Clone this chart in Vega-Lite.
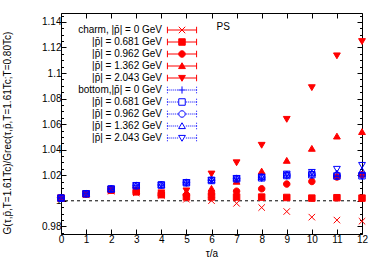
{
  "$schema": "https://vega.github.io/schema/vega-lite/v6.json",
  "width": 301,
  "height": 221,
  "autosize": {"type": "none"},
  "padding": {"left": 61, "top": 13, "right": 19, "bottom": 33},
  "background": "white",
  "config": {
    "view": {"stroke": null},
    "font": "Liberation Sans",
    "axis": {"grid": false, "domainColor": "black", "tickColor": "black", "labelColor": "black", "titleColor": "black", "labelFont": "Liberation Sans", "titleFont": "Liberation Sans", "labelFontSize": 10, "titleFontSize": 10, "titleFontWeight": "normal", "domainWidth": 1, "tickWidth": 1, "labelOverlap": false}
  },
  "data": {"values": [
    {"t":0,"s":0,"v":1.0021},{"t":1,"s":0,"v":1.0050},{"t":2,"s":0,"v":1.0075},{"t":3,"s":0,"v":1.0062},{"t":4,"s":0,"v":1.0042},{"t":5,"s":0,"v":1.0012},{"t":6,"s":0,"v":1.0001},{"t":7,"s":0,"v":0.998},{"t":8,"s":0,"v":0.9947},{"t":9,"s":0,"v":0.9916},{"t":10,"s":0,"v":0.9872},{"t":11,"s":0,"v":0.9849},{"t":12,"s":0,"v":0.984},
    {"t":0,"s":1,"v":1.0021},{"t":1,"s":1,"v":1.0053},{"t":2,"s":1,"v":1.0083},{"t":3,"s":1,"v":1.0070},{"t":4,"s":1,"v":1.0048},{"t":5,"s":1,"v":1.003},{"t":6,"s":1,"v":1.003},{"t":7,"s":1,"v":1.003},{"t":8,"s":1,"v":1.0029},{"t":9,"s":1,"v":1.0026},{"t":10,"s":1,"v":1.0021},{"t":11,"s":1,"v":1.0024},{"t":12,"s":1,"v":1.0021},
    {"t":0,"s":2,"v":1.0021},{"t":1,"s":2,"v":1.0054},{"t":2,"s":2,"v":1.0086},{"t":3,"s":2,"v":1.0075},{"t":4,"s":2,"v":1.0052},{"t":5,"s":2,"v":1.0045},{"t":6,"s":2,"v":1.0058},{"t":7,"s":2,"v":1.0075},{"t":8,"s":2,"v":1.0094},{"t":9,"s":2,"v":1.0131},{"t":10,"s":2,"v":1.0151},{"t":11,"s":2,"v":1.0186},{"t":12,"s":2,"v":1.0204},
    {"t":0,"s":3,"v":1.0021},{"t":1,"s":3,"v":1.0055},{"t":2,"s":3,"v":1.0089},{"t":3,"s":3,"v":1.0080},{"t":4,"s":3,"v":1.0058},{"t":5,"s":3,"v":1.0065},{"t":6,"s":3,"v":1.0095},{"t":7,"s":3,"v":1.015},{"t":8,"s":3,"v":1.023},{"t":9,"s":3,"v":1.0314},{"t":10,"s":3,"v":1.0408},{"t":11,"s":3,"v":1.0504},{"t":12,"s":3,"v":1.0539},
    {"t":0,"s":4,"v":1.0021},{"t":1,"s":4,"v":1.0056},{"t":2,"s":4,"v":1.0092},{"t":3,"s":4,"v":1.0085},{"t":4,"s":4,"v":1.0065},{"t":5,"s":4,"v":1.008},{"t":6,"s":4,"v":1.0212},{"t":7,"s":4,"v":1.030},{"t":8,"s":4,"v":1.0437},{"t":9,"s":4,"v":1.064},{"t":10,"s":4,"v":1.0888},{"t":11,"s":4,"v":1.1137},{"t":12,"s":4,"v":1.1249},
    {"t":0,"s":5,"v":1.0021},{"t":1,"s":5,"v":1.0055},{"t":2,"s":5,"v":1.0092},{"t":3,"s":5,"v":1.0118},{"t":4,"s":5,"v":1.0123},{"t":5,"s":5,"v":1.0141},{"t":6,"s":5,"v":1.0159},{"t":7,"s":5,"v":1.0172},{"t":8,"s":5,"v":1.0177},{"t":9,"s":5,"v":1.0195},{"t":10,"s":5,"v":1.0201},{"t":11,"s":5,"v":1.0191},{"t":12,"s":5,"v":1.0193},
    {"t":0,"s":6,"v":1.0021},{"t":1,"s":6,"v":1.0055},{"t":2,"s":6,"v":1.0092},{"t":3,"s":6,"v":1.0118},{"t":4,"s":6,"v":1.0123},{"t":5,"s":6,"v":1.0141},{"t":6,"s":6,"v":1.0159},{"t":7,"s":6,"v":1.0172},{"t":8,"s":6,"v":1.018},{"t":9,"s":6,"v":1.0198},{"t":10,"s":6,"v":1.0204},{"t":11,"s":6,"v":1.0194},{"t":12,"s":6,"v":1.0196},
    {"t":0,"s":7,"v":1.0022},{"t":1,"s":7,"v":1.0056},{"t":2,"s":7,"v":1.0093},{"t":3,"s":7,"v":1.0119},{"t":4,"s":7,"v":1.0125},{"t":5,"s":7,"v":1.0143},{"t":6,"s":7,"v":1.0161},{"t":7,"s":7,"v":1.0174},{"t":8,"s":7,"v":1.0184},{"t":9,"s":7,"v":1.0202},{"t":10,"s":7,"v":1.0208},{"t":11,"s":7,"v":1.0198},{"t":12,"s":7,"v":1.02},
    {"t":0,"s":8,"v":1.0022},{"t":1,"s":8,"v":1.0056},{"t":2,"s":8,"v":1.0094},{"t":3,"s":8,"v":1.012},{"t":4,"s":8,"v":1.0126},{"t":5,"s":8,"v":1.0144},{"t":6,"s":8,"v":1.0162},{"t":7,"s":8,"v":1.0176},{"t":8,"s":8,"v":1.0186},{"t":9,"s":8,"v":1.0205},{"t":10,"s":8,"v":1.0215},{"t":11,"s":8,"v":1.0215},{"t":12,"s":8,"v":1.0235},
    {"t":0,"s":9,"v":1.0022},{"t":1,"s":9,"v":1.0057},{"t":2,"s":9,"v":1.0095},{"t":3,"s":9,"v":1.0122},{"t":4,"s":9,"v":1.0127},{"t":5,"s":9,"v":1.0145},{"t":6,"s":9,"v":1.0163},{"t":7,"s":9,"v":1.0178},{"t":8,"s":9,"v":1.0188},{"t":9,"s":9,"v":1.0212},{"t":10,"s":9,"v":1.0225},{"t":11,"s":9,"v":1.0249},{"t":12,"s":9,"v":1.028}
  ]},
  "resolve": {"axis": {"x": "independent", "y": "independent"}, "scale": {"shape": "independent", "fill": "independent", "stroke": "independent"}, "legend": {"shape": "independent", "fill": "independent", "stroke": "independent"}},
  "layer": [
    {
      "data": {"values": [{}]},
      "mark": {"type": "rule", "color": "black", "strokeWidth": 1, "strokeDash": [3, 3]},
      "encoding": {"y": {"datum": 1, "type": "quantitative", "axis": null}}
    },
    {
      "data": {"values": [{}]},
      "mark": {"type": "point", "opacity": 0},
      "encoding": {
        "y": {"datum": 1, "type": "quantitative",
              "axis": {"orient": "left", "values": [0.975,0.98,0.985,0.99,0.995,1,1.005,1.01,1.015,1.02,1.025,1.03,1.035,1.04,1.045,1.05,1.055,1.06,1.065,1.07,1.075,1.08,1.085,1.09,1.095,1.1,1.105,1.11,1.115,1.12,1.125,1.13,1.135,1.14,1.145],
                       "labelExpr": "abs(datum.value*50 - round(datum.value*50)) < 0.001 ? format(datum.value, '~g') : ''",
                       "tickSize": {"condition": {"test": "abs(datum.value*50 - round(datum.value*50)) < 0.001", "value": -5}, "value": -2.5},
                       "labelPadding": 5, "labelOverlap": false, "title": null}}
      }
    },
    {
      "mark": {"type": "point", "opacity": 1, "size": 42, "strokeWidth": 1},
      "encoding": {
        "x": {"field": "t", "type": "quantitative", "scale": {"domain": [0, 12], "nice": false, "zero": false},
              "axis": {"orient": "bottom", "values": [0,1,2,3,4,5,6,7,8,9,10,11,12], "tickSize": -5, "labelPadding": 5, "labelFlush": false, "labelOverlap": false, "title": "τ/a", "titlePadding": 4}},
        "y": {"field": "v", "type": "quantitative", "scale": {"domain": [0.974, 1.147], "nice": false, "zero": false}, "axis": null},
        "shape": {"field": "s", "type": "nominal", "legend": null,
          "scale": {"domain": [0,1,2,3,4,5,6,7,8,9], "range": ["M-1,-1L1,1M-1,1L1,-1", "M-1,-1H1V1H-1Z", "M1,0A1,1,0,1,1,-1,0A1,1,0,1,1,1,0Z", "M0,-1L1.05,0.8L-1.05,0.8Z", "M0,1L1.05,-0.8L-1.05,-0.8Z", "M-1.1,0H1.1M0,-1.1V1.1", "M-1,-1H1V1H-1Z", "M1,0A1,1,0,1,1,-1,0A1,1,0,1,1,1,0Z", "M0,-1L1.05,0.8L-1.05,0.8Z", "M0,1L1.05,-0.8L-1.05,-0.8Z"]}},
        "fill": {"field": "s", "type": "nominal", "legend": null,
          "scale": {"domain": [0,1,2,3,4,5,6,7,8,9], "range": ["#ff0000","#ff0000","#ff0000","#ff0000","#ff0000","transparent","transparent","transparent","transparent","transparent"]}},
        "stroke": {"field": "s", "type": "nominal", "legend": null,
          "scale": {"domain": [0,1,2,3,4,5,6,7,8,9], "range": ["#ff0000","#ff0000","#ff0000","#ff0000","#ff0000","#0000ff","#0000ff","#0000ff","#0000ff","#0000ff"]}}
      }
    },
    {
      "mark": {"type": "point", "opacity": 0, "size": 42},
      "encoding": {
        "x": {"field": "t", "type": "quantitative", "axis": {"orient": "top", "values": [0,1,2,3,4,5,6,7,8,9,10,11,12], "tickSize": -5, "labels": false, "title": null}},
        "y": {"field": "v", "type": "quantitative", "axis": {"orient": "right", "values": [0.975,0.98,0.985,0.99,0.995,1,1.005,1.01,1.015,1.02,1.025,1.03,1.035,1.04,1.045,1.05,1.055,1.06,1.065,1.07,1.075,1.08,1.085,1.09,1.095,1.1,1.105,1.11,1.115,1.12,1.125,1.13,1.135,1.14,1.145],
          "tickSize": {"condition": {"test": "abs(datum.value*50 - round(datum.value*50)) < 0.001", "value": -5}, "value": -2.5}, "labels": false, "title": null}},
        "shape": {"field": "s", "type": "nominal",
          "scale": {"domain": [0,1,2,3,4,5,6,7,8,9], "range": [
            "M-4.5,0H4.5M-4.5,-1V1M4.5,-1V1M-1,-1L1,1M-1,1L1,-1",
            "M-4.5,0H4.5M-4.5,-1V1M4.5,-1V1M-1,-1H1V1H-1Z",
            "M-4.5,0H4.5M-4.5,-1V1M4.5,-1V1M1,0A1,1,0,1,1,-1,0A1,1,0,1,1,1,0Z",
            "M-4.5,0H4.5M-4.5,-1V1M4.5,-1V1M0,-1L1.05,0.8L-1.05,0.8Z",
            "M-4.5,0H4.5M-4.5,-1V1M4.5,-1V1M0,1L1.05,-0.8L-1.05,-0.8Z",
            "M-4.5,0H-4.2M-3.9,0H-3.6M-3.3,0H-3M-2.7,0H-2.4M-2.1,0H-1.8M-1.5,0H-1.2M1.2,0H1.5M1.8,0H2.1M2.4,0H2.7M3,0H3.3M3.6,0H3.9M4.2,0H4.5M-4.5,-1V-0.7M-4.5,-0.2V0.2M-4.5,0.7V1M4.5,-1V-0.7M4.5,-0.2V0.2M4.5,0.7V1M-1.1,0H1.1M0,-1.1V1.1",
            "M-4.5,0H-4.2M-3.9,0H-3.6M-3.3,0H-3M-2.7,0H-2.4M-2.1,0H-1.8M-1.5,0H-1.2M1.2,0H1.5M1.8,0H2.1M2.4,0H2.7M3,0H3.3M3.6,0H3.9M4.2,0H4.5M-4.5,-1V-0.7M-4.5,-0.2V0.2M-4.5,0.7V1M4.5,-1V-0.7M4.5,-0.2V0.2M4.5,0.7V1M-1,-1H1V1H-1Z",
            "M-4.5,0H-4.2M-3.9,0H-3.6M-3.3,0H-3M-2.7,0H-2.4M-2.1,0H-1.8M-1.5,0H-1.2M1.2,0H1.5M1.8,0H2.1M2.4,0H2.7M3,0H3.3M3.6,0H3.9M4.2,0H4.5M-4.5,-1V-0.7M-4.5,-0.2V0.2M-4.5,0.7V1M4.5,-1V-0.7M4.5,-0.2V0.2M4.5,0.7V1M1,0A1,1,0,1,1,-1,0A1,1,0,1,1,1,0Z",
            "M-4.5,0H-4.2M-3.9,0H-3.6M-3.3,0H-3M-2.7,0H-2.4M-2.1,0H-1.8M-1.5,0H-1.2M1.2,0H1.5M1.8,0H2.1M2.4,0H2.7M3,0H3.3M3.6,0H3.9M4.2,0H4.5M-4.5,-1V-0.7M-4.5,-0.2V0.2M-4.5,0.7V1M4.5,-1V-0.7M4.5,-0.2V0.2M4.5,0.7V1M0,-1L1.05,0.8L-1.05,0.8Z",
            "M-4.5,0H-4.2M-3.9,0H-3.6M-3.3,0H-3M-2.7,0H-2.4M-2.1,0H-1.8M-1.5,0H-1.2M1.2,0H1.5M1.8,0H2.1M2.4,0H2.7M3,0H3.3M3.6,0H3.9M4.2,0H4.5M-4.5,-1V-0.7M-4.5,-0.2V0.2M-4.5,0.7V1M4.5,-1V-0.7M4.5,-0.2V0.2M4.5,0.7V1M0,1L1.05,-0.8L-1.05,-0.8Z"]},
          "legend": {"title": null, "orient": "none", "legendX": 116, "legendY": 12, "padding": 0, "symbolSize": 42, "symbolStrokeWidth": 1, "symbolOpacity": 1, "labelAlign": "right", "labelOffset": -25, "labelFontSize": 10, "labelFont": "Liberation Sans", "labelColor": "black", "rowPadding": 0, "labelExpr": "['charm, |p̄| = 0 GeV','|p̄| = 0.681 GeV','|p̄| = 0.962 GeV','|p̄| = 1.362 GeV','|p̄| = 2.043 GeV','bottom,|p̄| = 0 GeV','|p̄| = 0.681 GeV','|p̄| = 0.962 GeV','|p̄| = 1.362 GeV','|p̄| = 2.043 GeV'][datum.value]"}},
        "fill": {"field": "s", "type": "nominal",
          "scale": {"domain": [0,1,2,3,4,5,6,7,8,9], "range": ["#ff0000","#ff0000","#ff0000","#ff0000","#ff0000","transparent","transparent","transparent","transparent","transparent"]},
          "legend": {"title": null, "orient": "none", "legendX": 116, "legendY": 12, "padding": 0, "symbolSize": 42, "symbolStrokeWidth": 1, "symbolOpacity": 1, "labelAlign": "right", "labelOffset": -25, "labelFontSize": 10, "labelFont": "Liberation Sans", "labelColor": "black", "rowPadding": 0, "labelExpr": "['charm, |p̄| = 0 GeV','|p̄| = 0.681 GeV','|p̄| = 0.962 GeV','|p̄| = 1.362 GeV','|p̄| = 2.043 GeV','bottom,|p̄| = 0 GeV','|p̄| = 0.681 GeV','|p̄| = 0.962 GeV','|p̄| = 1.362 GeV','|p̄| = 2.043 GeV'][datum.value]"}},
        "stroke": {"field": "s", "type": "nominal",
          "scale": {"domain": [0,1,2,3,4,5,6,7,8,9], "range": ["#ff0000","#ff0000","#ff0000","#ff0000","#ff0000","#0000ff","#0000ff","#0000ff","#0000ff","#0000ff"]},
          "legend": {"title": null, "orient": "none", "legendX": 116, "legendY": 12, "padding": 0, "symbolSize": 42, "symbolStrokeWidth": 1, "symbolOpacity": 1, "labelAlign": "right", "labelOffset": -25, "labelFontSize": 10, "labelFont": "Liberation Sans", "labelColor": "black", "rowPadding": 0, "labelExpr": "['charm, |p̄| = 0 GeV','|p̄| = 0.681 GeV','|p̄| = 0.962 GeV','|p̄| = 1.362 GeV','|p̄| = 2.043 GeV','bottom,|p̄| = 0 GeV','|p̄| = 0.681 GeV','|p̄| = 0.962 GeV','|p̄| = 1.362 GeV','|p̄| = 2.043 GeV'][datum.value]"}}
      }
    },
    {
      "data": {"values": [{}]},
      "mark": {"type": "text", "text": "PS", "align": "left", "baseline": "middle", "fontSize": 10, "font": "Liberation Sans", "color": "black"},
      "encoding": {
        "x": {"datum": 6.2, "type": "quantitative", "axis": null},
        "y": {"datum": 1.136, "type": "quantitative", "axis": null}
      }
    },
    {
      "data": {"values": [{}]},
      "mark": {"type": "text", "text": "G(τ,p̄,T=1.61Tc)/Grec(τ,p̄,T=1.61Tc;T=0.80Tc)", "angle": 270, "align": "center", "baseline": "middle", "fontSize": 10, "font": "Liberation Sans", "color": "black", "dy": -53},
      "encoding": {
        "x": {"datum": 0, "type": "quantitative", "axis": null},
        "y": {"datum": 1.053, "type": "quantitative", "axis": null}
      }
    }
  ]
}
